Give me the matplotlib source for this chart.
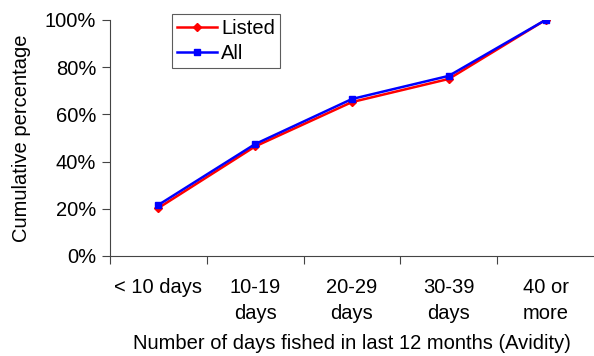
import numpy as np
import matplotlib.pyplot as plt
from matplotlib.ticker import FixedLocator, PercentFormatter

plt.rcParams['font.family'] = ['Liberation Sans', 'DejaVu Sans']

categories = ["< 10 days", "10-19\ndays", "20-29\ndays", "30-39\ndays", "40 or\nmore"]
listed = [20.3, 46.4, 65.2, 75.0, 100.0]
all_anglers = [21.6, 47.4, 66.5, 76.3, 100.0]

fs = 14.5

fig = plt.figure(figsize=(5.94, 3.56), dpi=100)
ax = fig.add_axes([0.185, 0.281, 0.815, 0.663])

x = np.arange(len(categories)) + 0.5
ax.plot(x, listed, color="#ff0000", lw=1.8, marker="D", ms=4, label="Listed")
ax.plot(x, all_anglers, color="#0000ff", lw=1.8, marker="s", ms=4.5, label="All")

ax.set_xlim(0, len(categories))
ax.set_ylim(0, 100)
ax.yaxis.set_major_locator(FixedLocator([0, 20, 40, 60, 80, 100]))
ax.yaxis.set_major_formatter(PercentFormatter(decimals=0))

ax.xaxis.set_major_locator(FixedLocator(np.arange(len(categories))))
ax.xaxis.set_minor_locator(FixedLocator(x))
ax.set_xticklabels([], minor=False)
ax.set_xticklabels(categories, minor=True, linespacing=1.45)
ax.tick_params(axis="x", which="minor", length=0, pad=16, labelsize=fs)
ax.tick_params(axis="x", which="major", length=6, color="#444444")
ax.tick_params(axis="y", length=6, labelsize=fs, color="#444444", pad=4)

for s in ["top", "right"]:
    ax.spines[s].set_visible(False)
for s in ["left", "bottom"]:
    ax.spines[s].set_color("#444444")

ax.set_ylabel("Cumulative percentage", fontsize=fs, labelpad=10)
ax.set_xlabel("Number of days fished in last 12 months (Avidity)", fontsize=fs, labelpad=8)

leg = ax.legend(loc="upper left", bbox_to_anchor=(0.128, 1.025), fontsize=fs,
                frameon=True, fancybox=False, edgecolor="#333333",
                handlelength=2.0, handletextpad=0.2, borderpad=0.25,
                labelspacing=0.3, borderaxespad=0)
leg.get_frame().set_linewidth(0.8)

fig.savefig("out.png", dpi=100)
